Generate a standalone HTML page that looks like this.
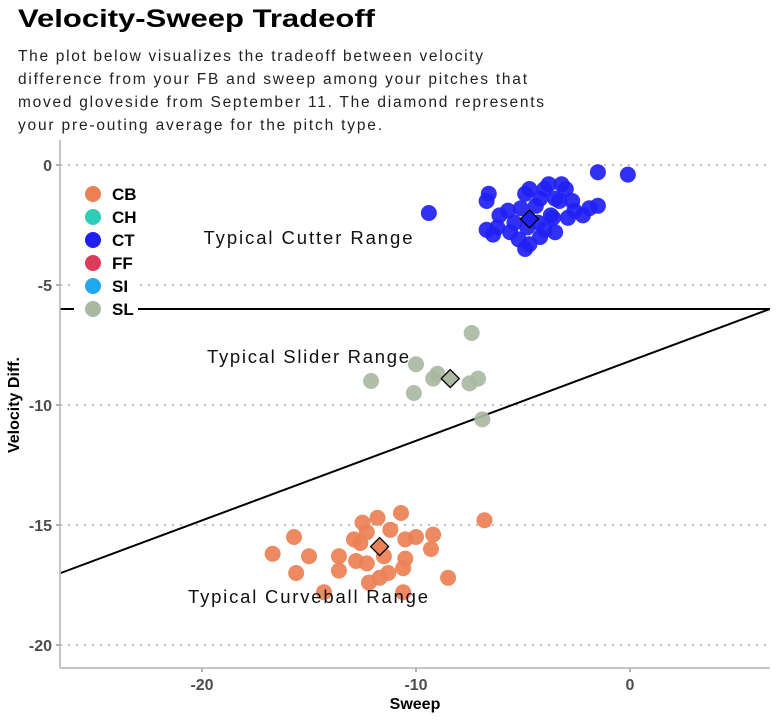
<!DOCTYPE html>
<html><head><meta charset="utf-8"><style>
body{margin:0;background:#fff;width:778px;height:719px;overflow:hidden;font-family:"Liberation Sans",sans-serif}
</style></head><body>
<svg id="chart" width="778" height="719" xmlns="http://www.w3.org/2000/svg" font-family="Liberation Sans, sans-serif">
<text x="18" y="27" font-size="25" font-weight="bold" fill="#000" textLength="357" lengthAdjust="spacingAndGlyphs">Velocity-Sweep Tradeoff</text>
<g font-size="15.5" fill="#222">
<text x="18" y="61" textLength="465" lengthAdjust="spacing">The plot below visualizes the tradeoff between velocity</text>
<text x="18" y="84" textLength="509" lengthAdjust="spacing">difference from your FB and sweep among your pitches that</text>
<text x="18" y="107" textLength="526" lengthAdjust="spacing">moved gloveside from September 11. The diamond represents</text>
<text x="18" y="130" textLength="364" lengthAdjust="spacing">your pre-outing average for the pitch type.</text>
</g>
<g id="plot"></g>
</svg>
<script>
const pitchTypes=["CB","CH","CT","FF","SI","SL"];
const typeColors=["#eb8055","#2fcdb6","#1f1ff5","#dc3c5a","#22a8ef","#aab8a2"];
const ctX=[-9.4,-6.6,-6.7,-6.7,-6.4,-6.1,-5.7,-5.1,-4.4,-4.2,-4.0,-3.8,-3.2,-3.0,-3.3,-2.7,-2.6,-2.9,-3.7,-4.0,-3.5,-4.2,-4.7,-4.9,-5.2,-5.6,-4.8,-2.2,-1.9,-1.5,-1.5,-0.1,-3.6,-4.3,-6.2,-5.4,-4.9,-4.7,-3.5];
const ctY=[-2.0,-1.2,-1.5,-2.7,-2.9,-2.1,-1.9,-1.8,-1.7,-1.4,-1.0,-0.8,-0.8,-1.0,-1.5,-1.5,-1.9,-2.2,-2.1,-2.7,-2.8,-3.0,-3.3,-3.5,-3.1,-2.8,-2.6,-2.1,-1.8,-1.7,-0.3,-0.4,-2.2,-2.4,-2.6,-2.4,-1.2,-1.0,-1.4];
const slX=[-7.4,-10.0,-12.1,-9.0,-9.2,-7.5,-7.1,-10.1,-6.9];
const slY=[-7.0,-8.3,-9.0,-8.7,-8.9,-9.1,-8.9,-9.5,-10.6];
const cbX=[-10.7,-11.8,-12.5,-6.8,-15.7,-12.3,-11.2,-12.9,-12.6,-10.5,-10.0,-9.2,-9.3,-16.7,-15.0,-13.6,-11.5,-10.5,-12.8,-12.3,-10.6,-13.6,-15.6,-11.3,-11.7,-12.2,-8.5,-14.3,-10.6];
const cbY=[-14.5,-14.7,-14.9,-14.8,-15.5,-15.3,-15.2,-15.6,-15.75,-15.6,-15.5,-15.4,-16.0,-16.2,-16.3,-16.3,-16.3,-16.4,-16.5,-16.6,-16.8,-16.9,-17.0,-17.0,-17.2,-17.4,-17.2,-17.8,-17.8];
const avgX=[-4.7,-8.4,-11.7];
const avgY=[-2.25,-8.9,-15.9];
const avgType=["CT","SL","CB"];
const xTicks=[-20,-10,0];
const yTicks=[0,-5,-10,-15,-20];
const lineH=-6;
const diagX=[-26.6,6.54];
const diagY=[-17,-6];
const annotText=["Typical Cutter Range","Typical Slider Range","Typical Curveball Range"];
const annotY=[-3.05,-8.0,-18.0];
const annotLen=[209,202,240];

const L=60,R=770,T=140,B=668;
const sx=v=>630+v*21.4, sy=v=>165-v*24;
const NS="http://www.w3.org/2000/svg";
const g=document.getElementById('plot');
function mk(tag,at,parent){const e=document.createElementNS(NS,tag);for(const k in at)e.setAttribute(k,at[k]);(parent||g).appendChild(e);return e;}
const clip=mk('clipPath',{id:'pc'});mk('rect',{x:L,y:T,width:R-L,height:B-T},clip);
yTicks.forEach(t=>{
 const gl=mk('line',{x1:L,x2:R,y1:sy(t),y2:sy(t),stroke:'#aaa','stroke-width':1.6,'stroke-dasharray':'2 6'});
 
 
 mk('line',{x1:L-4,x2:L,y1:sy(t),y2:sy(t),stroke:'#999','stroke-width':1.5});
 const tx=mk('text',{x:L-8,y:sy(t)+6,'text-anchor':'end','font-size':16,'font-weight':'bold',fill:'#4d4d4d'});
 tx.textContent=t;
 
 
});
xTicks.forEach(t=>{
 mk('line',{x1:sx(t),x2:sx(t),y1:B,y2:B+4,stroke:'#999','stroke-width':1.5});
 const tx=mk('text',{x:sx(t),y:B+22,'text-anchor':'middle','font-size':16,'font-weight':'bold',fill:'#4d4d4d'});
 tx.textContent=t;
 
 
});
const hl=mk('line',{x1:L,x2:R,y1:sy(lineH),y2:sy(lineH),stroke:'#000','stroke-width':2});


const dl=mk('line',{x1:sx(diagX[0]),x2:sx(diagX[1]),y1:sy(diagY[0]),y2:sy(diagY[1]),stroke:'#000','stroke-width':2,'clip-path':'url(#pc)'});


function pts(xs,ys,type){const c=typeColors[pitchTypes.indexOf(type)];
 xs.forEach((x,i)=>{const p=mk('circle',{cx:sx(x),cy:sy(ys[i]),r:8,fill:c,'fill-opacity':0.92});
 
 });}
pts(cbX,cbY,"CB");pts(slX,slY,"SL");pts(ctX,ctY,"CT");
avgX.forEach((x,i)=>{const cx=sx(x),cy=sy(avgY[i]),c=typeColors[pitchTypes.indexOf(avgType[i])];
 const d=mk('polygon',{points:`${cx},${cy-9} ${cx+9},${cy} ${cx},${cy+9} ${cx-9},${cy}`,fill:c,stroke:'#000','stroke-width':1.3});
 
 });
annotText.forEach((s,i)=>{const t=mk('text',{x:308,y:sy(annotY[i])+6,'text-anchor':'middle','font-size':18.5,fill:'#111',textLength:annotLen[i],lengthAdjust:'spacing'});
 t.textContent=s;
 
 });
mk('line',{x1:L,x2:L,y1:T,y2:B,stroke:'#b3b3b3','stroke-width':1.5});
mk('line',{x1:L,x2:R,y1:B,y2:B,stroke:'#b3b3b3','stroke-width':1.5});
const xt=mk('text',{x:415,y:709,'text-anchor':'middle','font-size':16,'font-weight':'bold',fill:'#000'});
xt.textContent='Sweep';


const yt=mk('text',{x:0,y:0,transform:'translate(19,405) rotate(-90)','text-anchor':'middle','font-size':16,'font-weight':'bold',fill:'#000'});
yt.textContent='Velocity Diff.';


const lg=mk('g',{});


mk('rect',{x:74,y:180,width:64,height:140,fill:'#fff'},lg);
pitchTypes.forEach((p,i)=>{const y=194+i*23;
 const e=mk('g',{},lg);
 
 
 mk('circle',{cx:93,cy:y,r:8,fill:typeColors[i]},e);
 const t=mk('text',{x:112,y:y+6,'font-size':17,'font-weight':'bold',fill:'#000'},e);t.textContent=p;});
</script>
</body></html>
